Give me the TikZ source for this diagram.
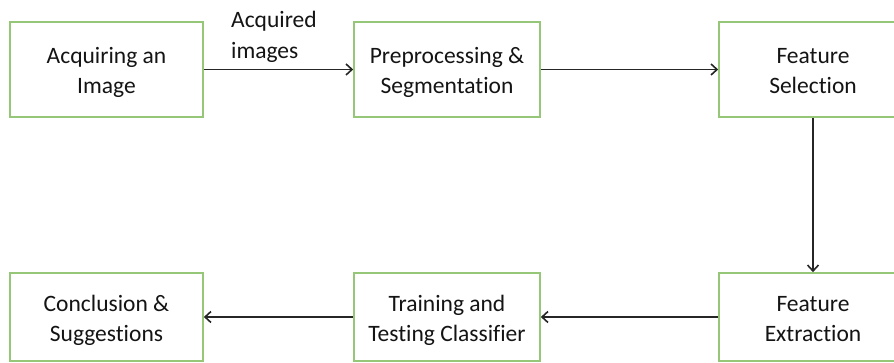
\documentclass[tikz,border=0pt]{standalone}
\usepackage{fontspec}
\setmainfont{Carlito}[Ligatures=NoCommon]
\usetikzlibrary{arrows.meta}
\definecolor{boxgreen}{RGB}{150,198,120}
\definecolor{txt}{RGB}{20,20,20}
\tikzset{
  labelfont/.style={font=\fontsize{23.5}{30.5}\selectfont},
  stagebox/.style={draw=boxgreen, line width=1.6pt, fill=white, text=txt,
    align=center, inner sep=0pt, text height=49pt, text depth=0pt, labelfont},
  flow/.style={draw=black!85, line width=1.8pt, -{Straight Barb[length=6pt,width=11pt,line width=1.6pt]}}
}
\begin{document}
\begin{tikzpicture}[x=1pt,y=-1pt]
\useasboundingbox (0,0) rectangle (894,363);
\clip (0,0) rectangle (894,363);
% top row
\node[stagebox, minimum width=193pt, minimum height=95pt] (acq) at (106.5,69.5) {Acquiring an\\Image};
\node[stagebox, minimum width=186pt, minimum height=95pt] (pre) at (447,69.5) {Preprocessing \&\\Segmentation};
\node[stagebox, minimum width=188pt, minimum height=95pt] (sel) at (813,69.5) {Feature\\Selection};
% bottom row
\node[stagebox, minimum width=193pt, minimum height=88pt] (con) at (106.5,317) {Conclusion \&\\Suggestions};
\node[stagebox, minimum width=186pt, minimum height=88pt] (tra) at (447,317) {Training and\\Testing Classifier};
\node[stagebox, minimum width=188pt, minimum height=88pt] (ext) at (813,317) {Feature\\Extraction};
% connectors
\draw[flow] (acq.east) -- (pre.west);
\draw[flow] (pre.east) -- (sel.west);
\draw[flow] (sel.south) -- (ext.north);
\draw[flow] (ext.west) -- (tra.east);
\draw[flow] (tra.west) -- (con.east);
% label on the first connector
\node[text=txt, align=left, anchor=north west, inner sep=0pt, labelfont] (lbl) at (231,11) {Acquired\\images};
\end{tikzpicture}
\end{document}
